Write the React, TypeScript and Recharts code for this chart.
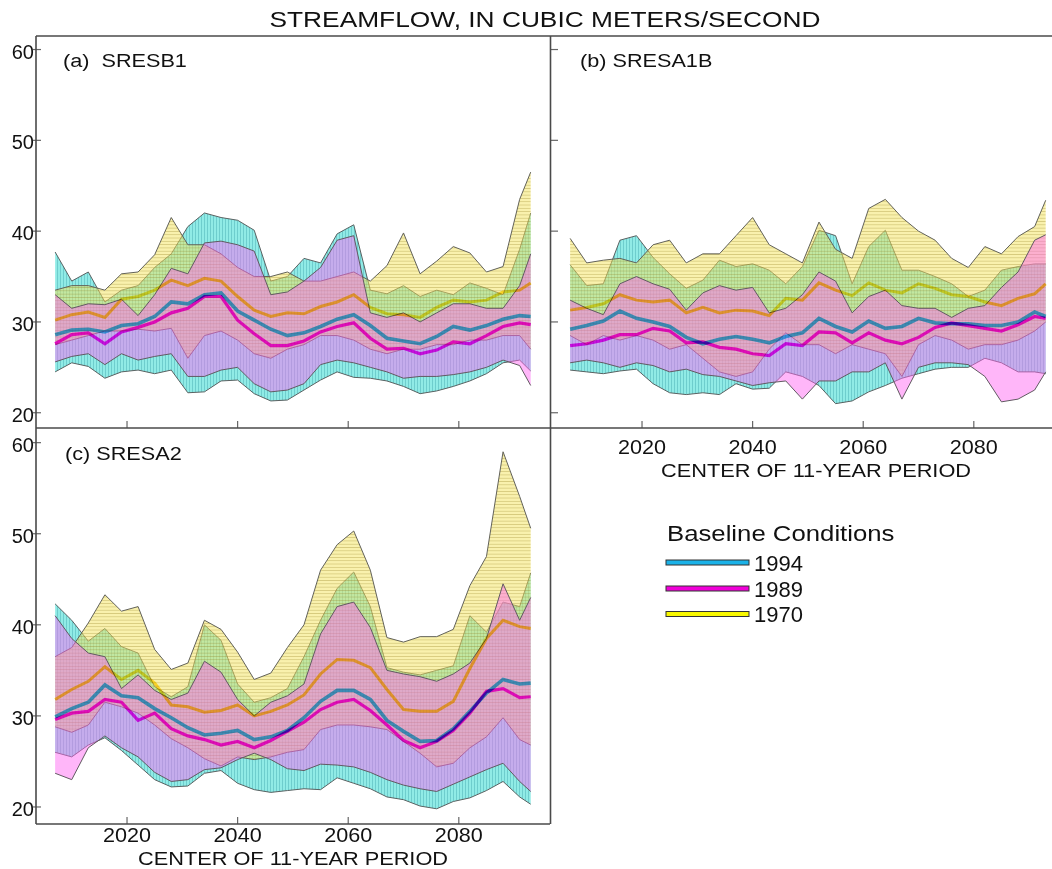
import React from "react";
import { ComposedChart, Area, Line, XAxis, YAxis } from "recharts";

// centre years of the 11-year periods (read every third year)
const years = [2007, 2010, 2013, 2016, 2019, 2022, 2025, 2028, 2031, 2034, 2037, 2040, 2043, 2046, 2049, 2052, 2055, 2058, 2061, 2064, 2067, 2070, 2073, 2076, 2079, 2082, 2085, 2088, 2091, 2093];

// (a) SRESB1
const b1Hi1994 = [37.7, 34.5, 35.5, 32.2, 33.5, 34, 36, 37.5, 40.5, 42, 41.5, 41.2, 40.1, 34.5, 35, 37, 36.5, 39.7, 40.7, 33.5, 33.1, 34, 32.8, 33.5, 33, 34.3, 33.7, 33, 38, 42];
const b1Lo1994 = [24.5, 25.5, 25.1, 23.8, 24.5, 24.7, 24.3, 24.7, 22.2, 22.3, 23.5, 23.6, 22.1, 21.3, 21.4, 22.5, 23.6, 24.5, 23.9, 23.8, 23.5, 22.9, 22.1, 22.4, 22.9, 23.5, 24.3, 25.5, 25.8, 24.6];
const b1Med1994 = [28.6, 29.1, 29.2, 28.9, 29.6, 29.8, 30.6, 32.2, 32, 33, 33.2, 31.2, 30.2, 29.2, 28.5, 28.8, 29.5, 30.3, 30.8, 29.6, 28.2, 27.9, 27.6, 28.4, 29.5, 29.1, 29.6, 30.3, 30.7, 30.6];
const b1Hi1989 = [33, 31.5, 32, 31.9, 32.5, 30.7, 33, 35.9, 35.3, 38.7, 38.9, 38.5, 37.8, 33, 33.3, 34.5, 36, 39, 39.5, 31, 30.5, 31, 30, 31, 32, 32, 31.5, 31.5, 34, 37.5];
const b1Lo1989 = [25.6, 26.2, 26.5, 25.3, 26.5, 25.8, 26.2, 26.5, 24, 24, 24.7, 25, 23.2, 22.3, 22.5, 23.2, 25.3, 25.8, 25.5, 25, 24.5, 23.8, 24, 24, 24.2, 24.5, 25, 25.8, 25.2, 23];
const b1Med1989 = [27.6, 28.6, 28.8, 27.6, 28.9, 29.4, 30, 31, 31.5, 32.8, 32.8, 30.2, 28.7, 27.4, 27.4, 27.9, 28.9, 29.5, 29.9, 28.2, 27, 27.1, 26.5, 26.9, 27.8, 27.6, 28.5, 29.5, 29.9, 29.7];
const b1Hi1970 = [33.5, 34, 34, 33.5, 35.3, 35.5, 37.4, 41.5, 38.5, 38.5, 37.5, 36, 35, 35, 35.5, 34.5, 34.5, 35, 35.5, 34.5, 36.2, 39.8, 35.3, 36.7, 38.3, 37.6, 35.5, 36.1, 43.5, 46.5];
const b1Lo1970 = [27.5, 28, 28.5, 29, 29, 29.2, 29, 29.3, 26, 28.5, 29, 28, 26.5, 26, 27, 27.5, 28.5, 28.5, 28, 27, 26.5, 27, 27, 27.5, 27.5, 28, 28, 28.5, 28.5, 27];
const b1Med1970 = [30.2, 30.8, 31.1, 30.5, 32.5, 32.8, 33.5, 34.6, 34, 34.8, 34.5, 32.8, 31.3, 30.6, 31, 30.9, 31.7, 32.2, 33, 31.6, 30.9, 30.8, 30.5, 31.6, 32.4, 32.2, 32.4, 33.3, 33.5, 34.3];

// (b) SRESA1B
const a1bHi1994 = [36.3, 34, 34.2, 39, 39.5, 37.1, 35.3, 33.7, 34.6, 36.8, 36.1, 36.4, 35.7, 34.2, 36.1, 40.1, 39.5, 34.2, 38.3, 40.1, 35.7, 35.7, 35, 34.2, 32.8, 33.5, 35.7, 36.1, 36.4, 36.4];
const a1bLo1994 = [24.7, 24.5, 24.3, 24.6, 24.8, 23.2, 22.2, 22, 22.2, 22, 23.2, 22.6, 22.7, 24.5, 24, 23, 21, 21.3, 22.3, 23, 23.8, 24.3, 24.8, 25, 25, 26, 25.5, 24.5, 24.5, 24.3];
const a1bMed1994 = [29.2, 29.6, 30.1, 31.2, 30.4, 30, 29.5, 28.3, 27.6, 28.1, 28.4, 28.1, 27.7, 28.4, 28.8, 30.4, 29.5, 28.9, 30.1, 29.3, 29.5, 30.4, 29.9, 29.8, 29.8, 29.6, 29.6, 30, 31.1, 30.6];
const a1bHi1989 = [32.4, 31.5, 30.8, 34.2, 35, 34.2, 33.6, 31.3, 33.2, 34, 33.5, 33.8, 31, 31.5, 33, 35.5, 34.5, 31, 32.8, 33.5, 31.8, 31.5, 31.5, 30.5, 31.5, 31.8, 33.8, 35.5, 39, 39.6];
const a1bLo1989 = [25.5, 25.8, 25.5, 25, 25.5, 25.2, 24.5, 24.8, 24.2, 24, 23.5, 23, 23.3, 23.5, 21.5, 23.5, 23.5, 24.5, 24.5, 25.5, 21.5, 25, 25.5, 25.5, 25.3, 24, 21.2, 21.5, 22.5, 24.5];
const a1bMed1989 = [27.4, 27.6, 28, 28.6, 28.6, 29.3, 29, 27.7, 27.8, 27.2, 27, 26.5, 26.3, 27.6, 27.4, 28.9, 28.8, 27.7, 28.8, 28, 27.6, 28.3, 29.4, 29.9, 29.6, 29.3, 29, 29.7, 30.6, 30.4];
const a1bHi1970 = [39.2, 36.5, 36.8, 37, 36.5, 38.5, 39, 36.5, 37.5, 37.5, 39.5, 41.5, 38.5, 37.5, 36.5, 41, 38, 37, 42.5, 43.5, 41.5, 40, 39, 37, 36, 38.3, 37.5, 39.4, 40.5, 43.4];
const a1bLo1970 = [28.5, 27.5, 28.5, 28, 28.5, 28, 27, 27.5, 26, 24.5, 24, 24.5, 27, 28.8, 27.5, 27.5, 26.5, 27.5, 27, 26.5, 24, 27.5, 28.5, 28, 27, 27.5, 27.5, 28, 29, 30];
const a1bMed1970 = [31.3, 31.6, 32, 33, 32.4, 32.2, 32.4, 31, 31.6, 31, 31.3, 31.2, 30.7, 32.6, 32.4, 34.3, 33.5, 32.9, 34.3, 33.5, 33.2, 34.2, 33.7, 33, 32.8, 32.2, 31.8, 32.6, 33.1, 34.2];

// (c) SRESA2
const a2Hi1994 = [42.3, 40.5, 38.2, 39.6, 37.6, 36.9, 33.2, 32.1, 33.2, 40, 38.3, 33.5, 31.5, 32, 33, 36.5, 40.5, 44, 45.8, 42, 35.3, 34.8, 34.5, 35, 35.5, 41, 39.2, 42.5, 42, 45.7];
const a2Lo1994 = [26, 25.5, 26.8, 27.6, 26.2, 24.6, 23, 22.2, 22.3, 23.7, 24, 22.6, 21.9, 21.6, 21.8, 22, 21.9, 23.2, 22.6, 22, 21.1, 20.8, 20.1, 19.8, 20.6, 21, 21.8, 22.8, 21.1, 20.3];
const a2Med1994 = [29.9, 30.8, 31.5, 33.4, 32.2, 32, 30.8, 29.8, 28.7, 27.9, 28.1, 28.4, 27.4, 27.7, 28.4, 29.8, 31.6, 32.8, 32.8, 31.8, 29.5, 28.3, 27.2, 27.3, 28.6, 30.5, 32.5, 34, 33.5, 33.6];
const a2Hi1989 = [41, 38.5, 36.9, 36.5, 33, 34.5, 32.8, 31.8, 32.5, 36, 34.8, 31.8, 30, 31.5, 32.2, 33.5, 39, 42, 42.5, 39.7, 35, 34.6, 34.3, 33.8, 34.6, 35.8, 38.5, 44.5, 40.5, 43];
const a2Lo1989 = [23.7, 23, 26.5, 27.8, 26.5, 25.5, 23.8, 22.8, 23, 24.1, 24.3, 25.2, 25.9, 25.2, 24.2, 24, 24.7, 24.6, 24.4, 23.8, 23, 22.4, 22, 21.7, 22.5, 23.3, 24.1, 24.8, 22.8, 21.7];
const a2Med1989 = [29.6, 30.3, 30.5, 31.8, 31.5, 29.5, 30.3, 28.6, 27.8, 27.4, 26.8, 27.2, 26.5, 27.3, 28.3, 29.3, 30.7, 31.5, 31.8, 30.6, 29, 27.3, 26.5, 27.2, 28.4, 30.3, 32.7, 33, 32, 32.1];
const a2Hi1970 = [36.5, 37.5, 40.2, 43.3, 41.5, 42, 37.3, 35.1, 35.8, 40.5, 39.5, 37, 34, 34.7, 37.5, 40, 46, 48.8, 50.3, 46, 38.6, 38.1, 38.7, 38.7, 39.5, 44.3, 47.5, 59, 54.1, 50.6];
const a2Lo1970 = [28.8, 28.2, 29, 31.5, 31, 30.3, 29, 27.5, 26.5, 25.3, 24.5, 25.5, 25.2, 25.5, 26, 26.3, 28.5, 29, 29, 28.8, 28.5, 27.2, 25.9, 24.4, 24.8, 26.5, 27.7, 29.8, 27.4, 26.8];
const a2Med1970 = [31.8, 32.9, 33.8, 35.4, 34, 35, 33.6, 31.2, 31, 30.4, 30.6, 31.2, 30, 30.5, 31.2, 32.3, 34.6, 36.2, 36.1, 35.3, 32.9, 30.7, 30.5, 30.5, 31.6, 35.2, 38.5, 40.5, 39.8, 39.6];

const yTicks = [20, 30, 40, 50, 60];
const xTicks = [2020, 2040, 2060, 2080];
const baselines = ["1994", "1989", "1970"];

const FONT = '"Liberation Sans", Arial, Helvetica, sans-serif';

function makeRows(
  hi94: number[], lo94: number[], med94: number[],
  hi89: number[], lo89: number[], med89: number[],
  hi70: number[], lo70: number[], med70: number[]
) {
  return years.map((year, i) => ({
    year,
    band1994: [lo94[i], hi94[i]],
    band1989: [lo89[i], hi89[i]],
    band1970: [lo70[i], hi70[i]],
    med1994: med94[i],
    med1989: med89[i],
    med1970: med70[i],
  }));
}

const rowsB1 = makeRows(b1Hi1994, b1Lo1994, b1Med1994, b1Hi1989, b1Lo1989, b1Med1989, b1Hi1970, b1Lo1970, b1Med1970);
const rowsA1B = makeRows(a1bHi1994, a1bLo1994, a1bMed1994, a1bHi1989, a1bLo1989, a1bMed1989, a1bHi1970, a1bLo1970, a1bMed1970);
const rowsA2 = makeRows(a2Hi1994, a2Lo1994, a2Med1994, a2Hi1989, a2Lo1989, a2Med1989, a2Hi1970, a2Lo1970, a2Med1970);

function T({ x, y, size, sx = 1, anchor = "start", children }: any) {
  return (
    <text
      transform={`translate(${x},${y}) scale(${sx},1)`}
      fontSize={size}
      fontFamily={FONT}
      textAnchor={anchor}
      fill="#111"
      style={{ whiteSpace: "pre" }}
    >
      {children}
    </text>
  );
}

const yTickOut = (props: any) => {
  const { x, y, payload } = props;
  return (
    <g>
      <line x1={x - 3} x2={x + 5} y1={y} y2={y} stroke="#666" strokeWidth={1.2} />
      <T x={x - 2} y={y + 9} size={20} anchor="end">{payload.value}</T>
    </g>
  );
};

const yTickIn = (props: any) => {
  const { x, y } = props;
  return <line x1={x} x2={x + 7} y1={y} y2={y} stroke="#666" strokeWidth={1.2} />;
};

function makeXTick(labelDy: number | null) {
  return (props: any) => {
    const { x, y, payload } = props;
    return (
      <g>
        <line x1={x} x2={x} y1={y} y2={y - 7} stroke="#666" strokeWidth={1.2} />
        {labelDy !== null && (
          <T x={x} y={y + labelDy} size={20} sx={1.08} anchor="middle">{payload.value}</T>
        )}
      </g>
    );
  };
}

function Panel({ id, rows, width, height, right, xAxisHeight, xDomain, yDomain, yLabels, xLabelDy }: any) {
  return (
    <ComposedChart width={width} height={height} data={rows} margin={{ top: 36, right, left: 0, bottom: 0 }}>
      <defs>
        <pattern id={`${id}-cyan`} width="3" height="3" patternUnits="userSpaceOnUse">
          <rect width="3" height="3" fill="#90ebe6" />
          <rect x="0" y="0" width="0.8" height="3" fill="#3c9fa8" fillOpacity="0.5" />
        </pattern>
        <pattern id={`${id}-yellow`} width="3" height="3.3" patternUnits="userSpaceOnUse">
          <rect width="3" height="3.3" fill="#f4e45c" fillOpacity="0.5" />
          <rect x="0" y="0" width="3" height="0.8" fill="#8f7a20" fillOpacity="0.35" />
        </pattern>
      </defs>
      <XAxis
        dataKey="year"
        type="number"
        domain={xDomain}
        allowDataOverflow
        ticks={xTicks}
        interval={0}
        height={xAxisHeight}
        axisLine={false}
        tickLine={false}
        tickSize={0}
        tickMargin={0}
        tick={makeXTick(xLabelDy)}
      />
      <YAxis
        type="number"
        domain={yDomain}
        allowDataOverflow
        ticks={yTicks}
        interval={0}
        width={36}
        axisLine={false}
        tickLine={false}
        tickSize={0}
        tickMargin={0}
        tick={yLabels ? yTickOut : yTickIn}
      />
      <Area type="linear" dataKey="band1994" fill={`url(#${id}-cyan)`} fillOpacity={1} stroke="#5a6262" strokeWidth={1} isAnimationActive={false} dot={false} activeDot={false} />
      <Area type="linear" dataKey="band1970" fill={`url(#${id}-yellow)`} fillOpacity={1} stroke="#62625a" strokeWidth={1} isAnimationActive={false} dot={false} activeDot={false} />
      <Area type="linear" dataKey="band1989" fill="#ff66f2" fillOpacity={0.48} stroke="#625a62" strokeWidth={1} isAnimationActive={false} dot={false} activeDot={false} />
      <Line className="blend" type="linear" dataKey="med1970" stroke="#ffe03c" strokeWidth={3} dot={false} activeDot={false} isAnimationActive={false} />
      <Line className="blend" type="linear" dataKey="med1994" stroke="#46d2e6" strokeWidth={3.6} dot={false} activeDot={false} isAnimationActive={false} />
      <Line className="blend" type="linear" dataKey="med1989" stroke="#ff14ee" strokeWidth={3.2} dot={false} activeDot={false} isAnimationActive={false} />
    </ComposedChart>
  );
}

const legendColors = ["#1ab2e8", "#f000d8", "#f8f800"];

export default function App() {
  const line = "#4a4a4a";
  return (
    <div style={{ position: "absolute", left: 0, top: 0, width: 1052, height: 869, background: "#fff", fontFamily: FONT }}>
      <style>{".blend path{mix-blend-mode:multiply}"}</style>
      <div style={{ position: "absolute", left: 0, top: 0 }}>
        <Panel id="pa" rows={rowsB1} width={560} height={440} right={10} xAxisHeight={12}
          xDomain={[2003.54, 2096.49]} yDomain={[18.32, 61.49]} yLabels xLabelDy={null} />
      </div>
      <div style={{ position: "absolute", left: 0, top: 392 }}>
        <Panel id="pc" rows={rowsA2} width={560} height={477} right={10} xAxisHeight={45}
          xDomain={[2003.54, 2096.49]} yDomain={[18.13, 61.61]} yLabels xLabelDy={18} />
      </div>
      <div style={{ position: "absolute", left: 515, top: 0 }}>
        <Panel id="pb" rows={rowsA1B} width={537} height={500} right={0} xAxisHeight={72}
          xDomain={[2003.54, 2094.14]} yDomain={[18.32, 61.49]} yLabels={false} xLabelDy={26} />
      </div>
      <svg width={1052} height={869} style={{ position: "absolute", left: 0, top: 0, pointerEvents: "none" }}>
        <T x={545} y={27} size={22.5} sx={1.17} anchor="middle">STREAMFLOW, IN CUBIC METERS/SECOND</T>
        <T x={63} y={67} size={19} sx={1.14}>{"(a)  SRESB1"}</T>
        <T x={580} y={67} size={19} sx={1.14}>(b) SRESA1B</T>
        <T x={65} y={460} size={19} sx={1.14}>(c) SRESA2</T>
        <T x={816} y={477} size={19} sx={1.145} anchor="middle">CENTER OF 11-YEAR PERIOD</T>
        <T x={293} y={865} size={19} sx={1.145} anchor="middle">CENTER OF 11-YEAR PERIOD</T>

        <line x1={36} x2={1052} y1={36} y2={36} stroke={line} strokeWidth={1.6} />
        <line x1={36} x2={1052} y1={428} y2={428} stroke={line} strokeWidth={1.6} />
        <line x1={36} x2={550} y1={824} y2={824} stroke={line} strokeWidth={1.6} />
        <line x1={36} x2={36} y1={36} y2={824} stroke={line} strokeWidth={1.6} />
        <line x1={550.5} x2={550.5} y1={36} y2={824} stroke={line} strokeWidth={1.6} />

        <T x={667} y={541} size={22} sx={1.17}>Baseline Conditions</T>
        {baselines.map((b, i) => {
          const cy = [562.5, 588.5, 614][i];
          return (
            <g key={b}>
              <rect x={666} y={cy - 2.5} width={83} height={5} fill={legendColors[i]} stroke="#333" strokeWidth={1} />
              <T x={754} y={cy + 8} size={22}>{b}</T>
            </g>
          );
        })}
      </svg>
    </div>
  );
}
